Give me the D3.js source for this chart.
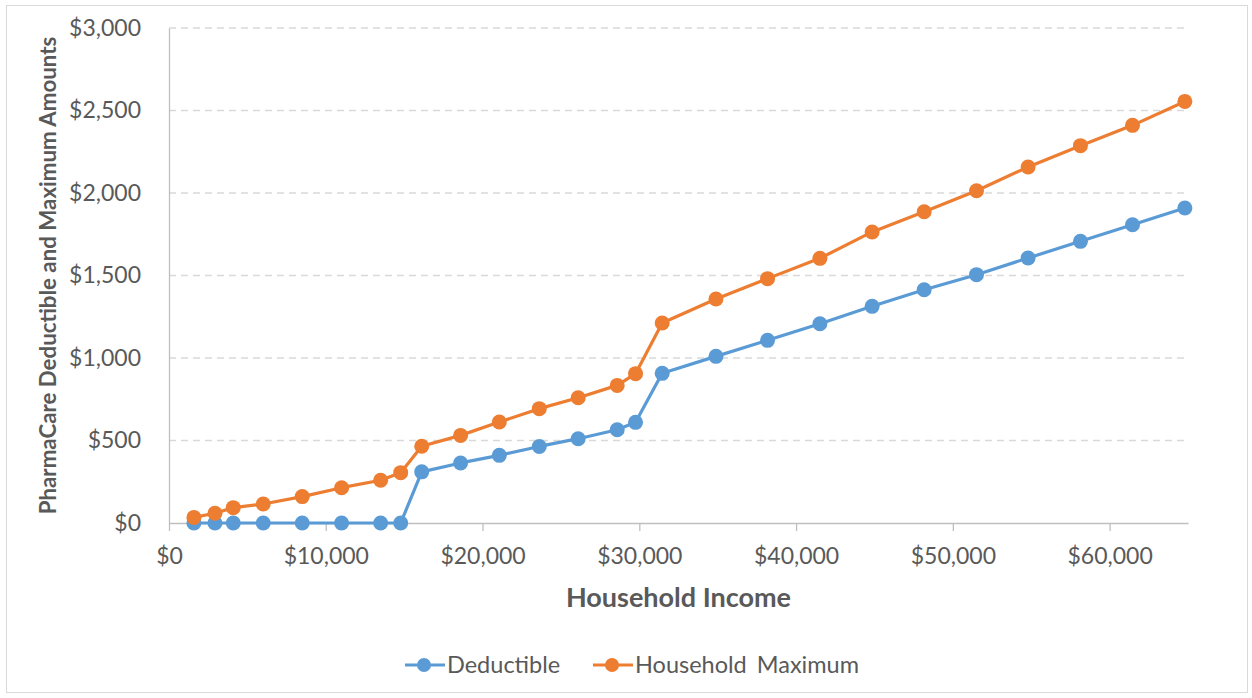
<!DOCTYPE html>
<html>
<head>
<meta charset="utf-8">
<script src="https://cdn.jsdelivr.net/npm/d3@7"></script>
<style>
  body { margin: 0; background: #fff; }
  svg { display: block; font-family: Lato, "Open Sans", sans-serif; }
  .axis text { fill: #595959; font-size: 23px; font-family: Lato, sans-serif; }
  .axis path, .axis line { stroke: #bfbfbf; }
  .axis-title { fill: #595959; font-weight: bold; }
</style>
</head>
<body>
<svg width="1252" height="698"></svg>
<script>
const income = [
  1590, 2930, 4100, 6010, 8500, 11010, 13500, 14780, 16120, 18600, 21070,
  23620, 26100, 28590, 29760, 31460, 34890, 38180, 41520, 44850, 48170,
  51510, 54800, 58140, 61460, 64800,
];
const deductible = [
  0, 0, 0, 0, 0, 0, 0, 0, 310, 364, 410, 464, 511, 565, 610, 907, 1010, 1107,
  1208, 1313, 1414, 1505, 1606, 1707, 1808, 1909,
];
const householdMax = [
  34, 59, 93, 115, 160, 214, 259, 305, 465, 531, 612, 693, 759, 834, 905,
  1212, 1358, 1481, 1604, 1764, 1886, 2014, 2158, 2287, 2410, 2555,
];
const xTicks = [0, 10000, 20000, 30000, 40000, 50000, 60000];
const yTicks = [0, 500, 1000, 1500, 2000, 2500, 3000];
const seriesNames = ["Deductible", "Household Maximum"];
const colors = ["#5b9bd5", "#ed7d31"];

const svg = d3.select("svg");
const plotLeft = 169, plotRight = 1188, plotTop = 28, plotBottom = 523;

// Chart border
svg.append("rect")
  .attr("x", 6.5).attr("y", 5.5)
  .attr("width", 1241).attr("height", 687)
  .attr("fill", "#fff")
  .attr("stroke", "#d9d9d9");

const xScale = d3.scaleLinear().domain([0, 65000]).range([plotLeft, plotRight]);
const yScale = d3.scaleLinear().domain([0, 3000]).range([plotBottom, plotTop]);
const money = d3.format("$,.0f");

// Gridlines
svg.append("g")
  .selectAll("line")
  .data(yTicks.filter((d) => d > 0))
  .enter()
  .append("line")
  .attr("x1", plotLeft)
  .attr("x2", plotRight)
  .attr("y1", (d) => yScale(d))
  .attr("y2", (d) => yScale(d))
  .attr("stroke", "#d9d9d9")
  .attr("stroke-width", 1.3)
  .attr("stroke-dasharray", "7,5");

// Y axis
svg.append("g")
  .attr("class", "axis")
  .attr("transform", "translate(" + plotLeft + ",0)")
  .call(d3.axisLeft(yScale).tickValues(yTicks).tickFormat(money).tickSize(0).tickPadding(28))
  .call((g) => g.select(".domain").attr("stroke-width", 1.3));

// X axis
svg.append("g")
  .attr("class", "axis")
  .attr("transform", "translate(0," + plotBottom + ")")
  .call(d3.axisBottom(xScale).tickValues(xTicks).tickFormat(money).tickSize(8).tickSizeOuter(0).tickPadding(17))
  .call((g) => g.select(".domain").attr("stroke-width", 1.3))
  .call((g) => g.selectAll(".tick line").attr("stroke-width", 1.3));

// Axis titles
svg.append("text")
  .attr("class", "axis-title")
  .attr("x", (plotLeft + plotRight) / 2)
  .attr("y", 607)
  .attr("text-anchor", "middle")
  .style("font-size", "27px")
  .text("Household Income");

svg.append("text")
  .attr("class", "axis-title")
  .attr("text-anchor", "middle")
  .attr("transform", "translate(56," + (plotTop + plotBottom) / 2 + ")rotate(-90)")
  .style("font-size", "22.3px")
  .text("PharmaCare Deductible and Maximum Amounts");

// Series
const series = [deductible, householdMax].map((vals) =>
  vals.map((v, i) => [income[i], v])
);
const line = d3.line()
  .x((d) => xScale(d[0]))
  .y((d) => yScale(d[1]));

series.forEach((s, k) => {
  svg.append("path")
    .datum(s)
    .attr("fill", "none")
    .attr("stroke", colors[k])
    .attr("stroke-width", 3.2)
    .attr("stroke-linejoin", "round")
    .attr("d", line);
  svg.append("g")
    .selectAll("circle")
    .data(s)
    .enter()
    .append("circle")
    .attr("cx", (d) => xScale(d[0]))
    .attr("cy", (d) => yScale(d[1]))
    .attr("r", 7.5)
    .attr("fill", colors[k]);
});

// Legend
const legendX = [405, 593];
const legend = svg.append("g").attr("transform", "translate(0,665)");
seriesNames.forEach((name, k) => {
  const g = legend.append("g").attr("transform", "translate(" + legendX[k] + ",0)");
  g.append("line")
    .attr("x1", 0).attr("x2", 40)
    .attr("stroke", colors[k]).attr("stroke-width", 3.2);
  g.append("circle")
    .attr("cx", 19).attr("r", 7)
    .attr("fill", colors[k]);
  g.append("text")
    .attr("x", 42)
    .attr("dy", "0.35em")
    .attr("fill", "#595959")
    .style("font-size", "23.5px")
    .style("word-spacing", "4px")
    .text(name);
});
</script>
</body>
</html>
